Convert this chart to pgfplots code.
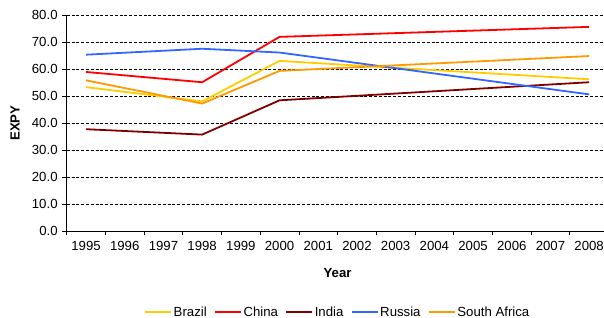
\documentclass[border=0pt]{standalone}
\usepackage{fontspec}
\setmainfont{Liberation Sans}
\usepackage{pgfplots}
\pgfplotsset{compat=1.18}
\definecolor{cBrazil}{HTML}{FFCC00}
\definecolor{cChina}{HTML}{FF0000}
\definecolor{cIndia}{HTML}{800000}
\definecolor{cRussia}{HTML}{3366FF}
\definecolor{cSA}{HTML}{FF9900}
\begin{document}
\begin{tikzpicture}[x=1pt,y=1pt]
\begin{axis}[
  at={(66.7pt,87pt)}, anchor=south west,
  scale only axis, width=541.8pt, height=216pt,
  xmin=-0.5, xmax=13.5, ymin=0, ymax=80,
  axis x line*=bottom, axis y line*=left,
  axis line style={-, black, line width=0.9pt},
  x tick label as interval,
  xtick={-0.5,0.5,1.5,2.5,3.5,4.5,5.5,6.5,7.5,8.5,9.5,10.5,11.5,12.5,13.5},
  xticklabels={1995,1996,1997,1998,1999,2000,2001,2002,2003,2004,2005,2006,2007,2008},
  ytick={0,10,...,80},
  tick align=outside, major tick length=4.4pt,
  tick style={black, line width=0.8pt},
  ymajorgrids, grid style={black, line width=0.7pt, dash pattern=on 3pt off 1.8pt},
  /pgf/number format/assume math mode=true,
  yticklabel={\pgfmathprintnumber[fixed,fixed zerofill,precision=1]{\tick}},
  tick label style={font=\fontsize{13.2}{15}\selectfont},
  yticklabel style={inner sep=0pt, xshift=-4.5pt},
  xticklabel style={inner sep=0pt, yshift=-6pt},
  ylabel={\textbf{EXPY}},
  ylabel style={at={(axis description cs:-0.0954,0.5)}, rotate=0, anchor=center, font=\fontsize{13.2}{15}\selectfont},
  xlabel={\textbf{Year}},
  xlabel style={at={(axis description cs:0.5,-0.194)}, anchor=center, font=\fontsize{13.2}{15}\selectfont},
  legend columns=5,
  legend style={at={(0.5,-0.375)}, anchor=center, draw=none, fill=none,
    font=\fontsize{13.2}{15}\selectfont,
    /tikz/every even column/.append style={column sep=6pt},
    nodes={inner xsep=1.5pt, inner ysep=0pt}},
  legend image code/.code={\draw[#1] (0pt,0pt) -- (26pt,0pt);},
  every axis plot/.append style={line width=1.8pt},
  clip=false,
]
\addplot[cBrazil] coordinates {(0,53.3) (3,48.0) (5,63.0) (13,56.2)};
\addlegendentry{Brazil}
\addplot[cChina] coordinates {(0,58.9) (3,55.1) (5,71.9) (13,75.6)};
\addlegendentry{China}
\addplot[cIndia] coordinates {(0,37.7) (3,35.7) (5,48.4) (13,55.1)};
\addlegendentry{India}
\addplot[cRussia] coordinates {(0,65.3) (3,67.5) (5,66.1) (13,50.6)};
\addlegendentry{Russia}
\addplot[cSA] coordinates {(0,55.8) (3,47.2) (5,59.3) (13,64.8)};
\addlegendentry{South Africa}
\end{axis}
\pgfresetboundingbox
\useasboundingbox (0pt,0pt) rectangle (604pt,318pt);
\end{tikzpicture}
\end{document}
